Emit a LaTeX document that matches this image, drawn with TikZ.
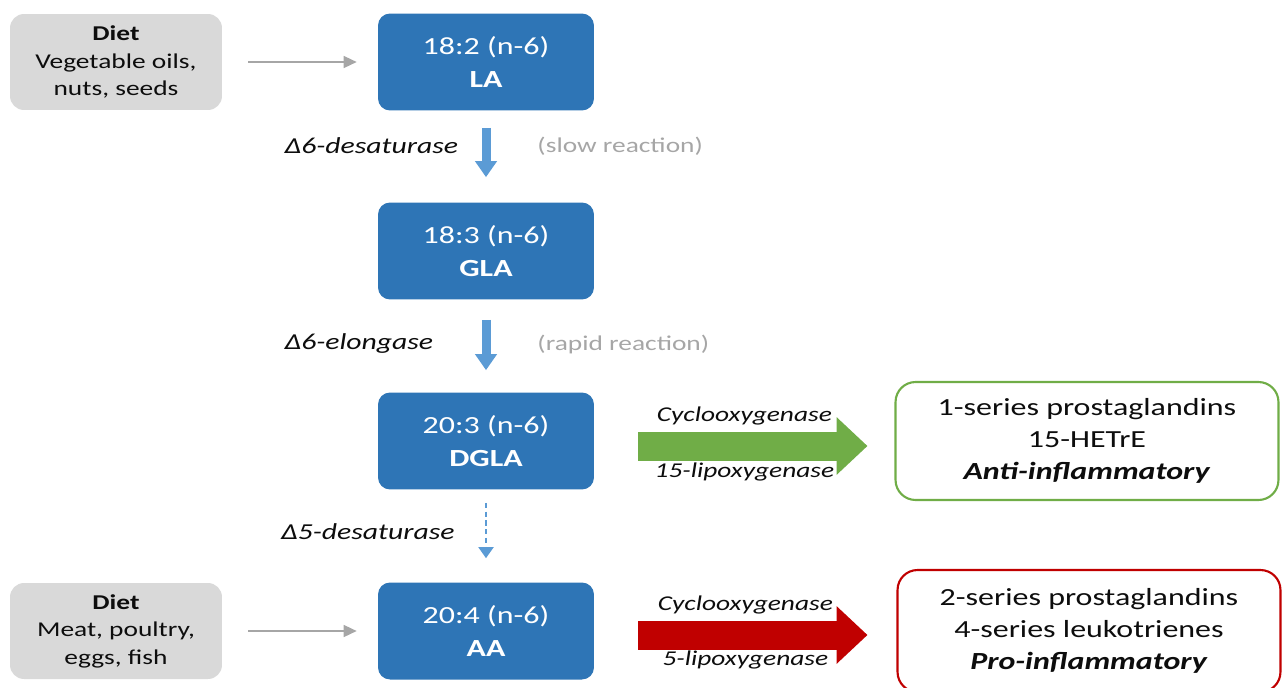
\documentclass[tikz,border=0pt]{standalone}
\usepackage{fontspec}
\setmainfont{Carlito}[FakeStretch=1.3]
\usepackage{xcolor}
\usepackage{tikz}
\usetikzlibrary{arrows.meta,positioning}
\definecolor{AcidBlue}{HTML}{2E75B6}
\definecolor{StepBlue}{HTML}{5B9BD5}
\definecolor{DietGray}{HTML}{D9D9D9}
\definecolor{FeedGray}{HTML}{A6A6A6}
\definecolor{NoteGray}{HTML}{A6A6A6}
\definecolor{AntiGreen}{HTML}{70AD47}
\definecolor{ProRed}{HTML}{C00000}
\definecolor{InkDark}{HTML}{0D0D0D}

\tikzset{
  acid/.style={fill=AcidBlue,text=white,rounded corners=0.24cm,minimum width=4.32cm,minimum height=1.94cm,align=center,font=\fontsize{14}{18.8}\selectfont},
  diet/.style={fill=DietGray,text=InkDark,rounded corners=0.28cm,minimum width=4.24cm,minimum height=1.92cm,align=center,font=\fontsize{12}{15.6}\selectfont},
  effect/.style={fill=white,text=InkDark,line width=1.2pt,rounded corners=0.4cm,minimum width=7.66cm,minimum height=2.36cm,align=center,font=\fontsize{14}{18.2}\selectfont},
  enzyme/.style={inner sep=0pt,text=InkDark,font=\fontsize{12}{14}\selectfont\itshape},
  sideenzyme/.style={enzyme,font=\fontsize{13}{15}\selectfont\itshape},
  note/.style={inner sep=0pt,text=NoteGray,font=\fontsize{12}{14}\selectfont},
  feed/.style={draw=FeedGray,line width=0.85pt,-{Triangle[length=0.26cm,width=0.24cm]}},
  convert/.style={draw=StepBlue,line width=0.18cm,-{Triangle[length=0.32cm,width=0.42cm]}},
  slowconvert/.style={draw=StepBlue,line width=1.1pt,dash pattern=on 3pt off 2pt,-{Triangle[length=0.22cm,width=0.3cm]}},
  fatarrow/.style={line width=0.58cm,-{Triangle[length=0.62cm,width=1.12cm]}}
}

\begin{document}
\begin{tikzpicture}[x=0.02cm,y=-0.02cm]
  \useasboundingbox (0,0) rectangle (1282,687);
  \clip (0,0) rectangle (1282,687);

  % diet sources
  \node[diet] (veg) at (116,62) {\textbf{Diet}\\Vegetable oils,\\nuts, seeds};
  \node[diet] (meat) at (116,631) {\textbf{Diet}\\Meat, poultry,\\eggs, fish};

  % fatty acids
  \node[acid] (la) at (486,62) {18:2 (n-6)\\\textbf{LA}};
  \node[acid] (gla) at (486,251) {18:3 (n-6)\\\textbf{GLA}};
  \node[acid] (dgla) at (486,441) {20:3 (n-6)\\\textbf{DGLA}};
  \node[acid] (aa) at (486,631) {20:4 (n-6)\\\textbf{AA}};

  % outcomes
  \node[effect,draw=AntiGreen] (anti) at (1087,441) {1-series prostaglandins\\15-HETrE\\\textbf{\textit{Anti-inflammatory}}};
  \node[effect,draw=ProRed,minimum height=2.44cm] (pro) at (1089,631) {2-series prostaglandins\\4-series leukotrienes\\\textbf{\textit{Pro-inflammatory}}};

  \draw[feed,shorten <=0.52cm,shorten >=0.42cm] (veg) -- (la);
  \draw[feed,shorten <=0.52cm,shorten >=0.42cm] (meat) -- (aa);

  \draw[convert,shorten <=0.34cm,shorten >=0.5cm] (la) -- (gla)
    node[sideenzyme,midway,anchor=west,xshift=-4.12cm,yshift=0.21cm] {Δ6-desaturase}
    node[note,midway,anchor=west,xshift=0.94cm,yshift=0.21cm] {(slow reaction)};
  \draw[convert,shorten <=0.4cm,shorten >=0.44cm] (gla) -- (dgla)
    node[sideenzyme,midway,anchor=west,xshift=-4.12cm,yshift=0.04cm] {Δ6-elongase}
    node[note,midway,anchor=west,xshift=0.94cm,yshift=0.04cm] {(rapid reaction)};
  \draw[slowconvert,shorten <=0.26cm,shorten >=0.48cm] (dgla) -- (aa)
    node[sideenzyme,midway,anchor=west,xshift=-4.12cm,yshift=0.08cm] {Δ5-desaturase};

  \draw[fatarrow,draw=AntiGreen,shorten <=0.88cm,shorten >=0.54cm] ([yshift=-0.1cm]dgla.east) -- ([yshift=-0.1cm]anti.west)
    node[enzyme,midway,yshift=0.6cm] {Cyclooxygenase}
    node[enzyme,midway,yshift=-0.52cm] {15-lipoxygenase};
  \draw[fatarrow,draw=ProRed,shorten <=0.88cm,shorten >=0.58cm] ([yshift=-0.08cm]aa.east) -- ([yshift=-0.08cm]pro.west)
    node[enzyme,midway,yshift=0.6cm] {Cyclooxygenase}
    node[enzyme,midway,yshift=-0.5cm] {5-lipoxygenase};
\end{tikzpicture}
\end{document}
